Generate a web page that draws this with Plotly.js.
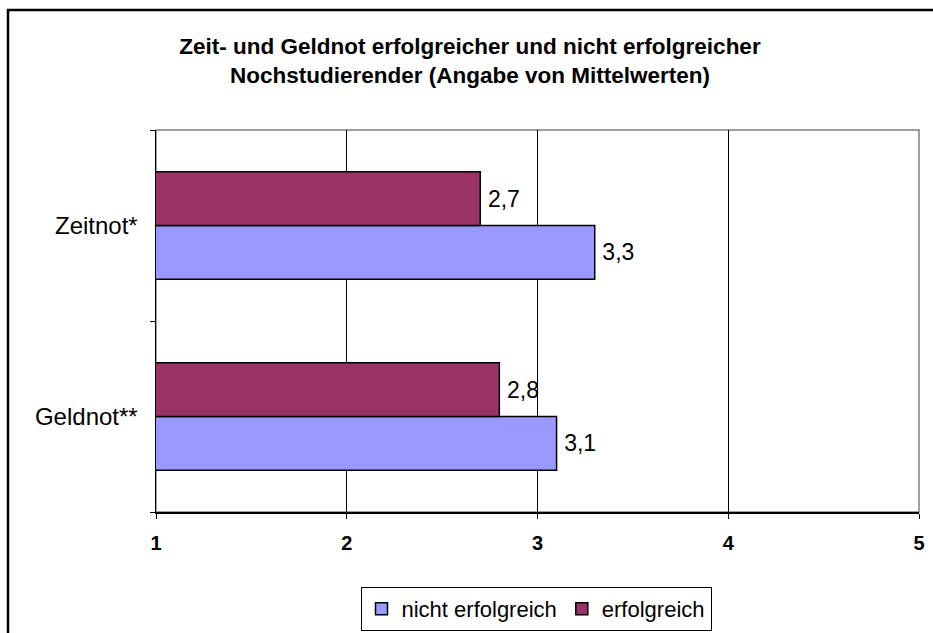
<!DOCTYPE html>
<html>
<head>
<meta charset="utf-8">
<script src="https://cdn.plot.ly/plotly-3.0.1.min.js"></script>
<style>html,body{margin:0;padding:0;background:#fff;}#chart{width:933px;height:633px;}</style>
</head>
<body>
<div id="chart"></div>
<script>
const categories = ['Geldnot**', 'Zeitnot*'];
const seriesNames = ['nicht erfolgreich', 'erfolgreich'];
const nichtErfolgreich = [3.1, 3.3];
const erfolgreich = [2.8, 2.7];
const xTicks = [1, 2, 3, 4, 5];
const colors = ['#9999FF', '#993366'];

const W = 933, H = 633;
const L = 156, R = 14, T = 130, B = 121;
const pw = W - L - R, ph = H - T - B;
const px = v => (v - L) / pw;
const py = v => (H - B - v) / ph;

const font = {family: 'Liberation Sans, Arial, sans-serif', color: '#000'};

function mk(name, vals, color) {
  return {
    type: 'bar', orientation: 'h', name: name,
    y: categories, x: vals,
    marker: {color: color, line: {color: '#000', width: 1.5}},
    text: vals.map(v => '\u2009' + v.toFixed(1).replace('.', ',')),
    textposition: 'outside', cliponaxis: false,
    textfont: Object.assign({}, font, {size: 23}),
    hoverinfo: 'x+y'
  };
}

const data = [mk(seriesNames[0], nichtErfolgreich, colors[0]), mk(seriesNames[1], erfolgreich, colors[1])];

const layout = {
  width: W, height: H,
  margin: {l: L, r: R, t: T, b: B, pad: 0},
  paper_bgcolor: '#fff', plot_bgcolor: '#fff',
  barmode: 'group', bargap: 0.4375, bargroupgap: 0,
  separators: ',.',
  title: {
    text: 'Zeit- und Geldnot erfolgreicher und nicht erfolgreicher<br>Nochstudierender (Angabe von Mittelwerten)',
    font: Object.assign({}, font, {size: 22.5, weight: 'bold'}),
    xref: 'container', x: 470 / W, xanchor: 'center',
    yref: 'container', y: 1 - 54 / H, yanchor: 'middle'
  },
  xaxis: {
    range: [1, 5], tickvals: xTicks, ticktext: xTicks.map(String),
    showgrid: true, gridcolor: '#000', gridwidth: 1,
    zeroline: false, showline: true, linecolor: '#000', linewidth: 1.5,
    ticks: 'outside', ticklen: 5, tickcolor: '#000',
    ticklabelstandoff: 7,
    tickfont: Object.assign({}, font, {size: 20, weight: 'bold'}),
    fixedrange: true
  },
  yaxis: {
    type: 'category', categoryorder: 'array', categoryarray: categories,
    showgrid: false, zeroline: false, showline: true, linecolor: '#000', linewidth: 1.5,
    ticks: 'outside', ticklen: 5, tickcolor: '#000', tickson: 'boundaries',
    ticklabelstandoff: 12,
    tickfont: Object.assign({}, font, {size: 24}),
    fixedrange: true
  },
  showlegend: true,
  legend: {
    orientation: 'h', xref: 'container', yref: 'container',
    x: 536 / W, xanchor: 'center', y: 1 - 587 / H, yanchor: 'top',
    bordercolor: '#000', borderwidth: 1, bgcolor: '#fff',
    font: Object.assign({}, font, {size: 22}),
    traceorder: 'normal', itemwidth: 30
  },
  shapes: [
    {type: 'rect', xref: 'paper', yref: 'paper', x0: 0, x1: 1, y0: 0, y1: 1,
     line: {color: '#808080', width: 1.5}, layer: 'below'},
    {type: 'rect', xref: 'paper', yref: 'paper', x0: px(8), x1: px(945), y0: py(10), y1: py(650),
     line: {color: '#000', width: 2.5}, layer: 'above'}
  ]
};

Plotly.newPlot('chart', data, layout, {displayModeBar: false, staticPlot: true});
</script>
</body>
</html>
